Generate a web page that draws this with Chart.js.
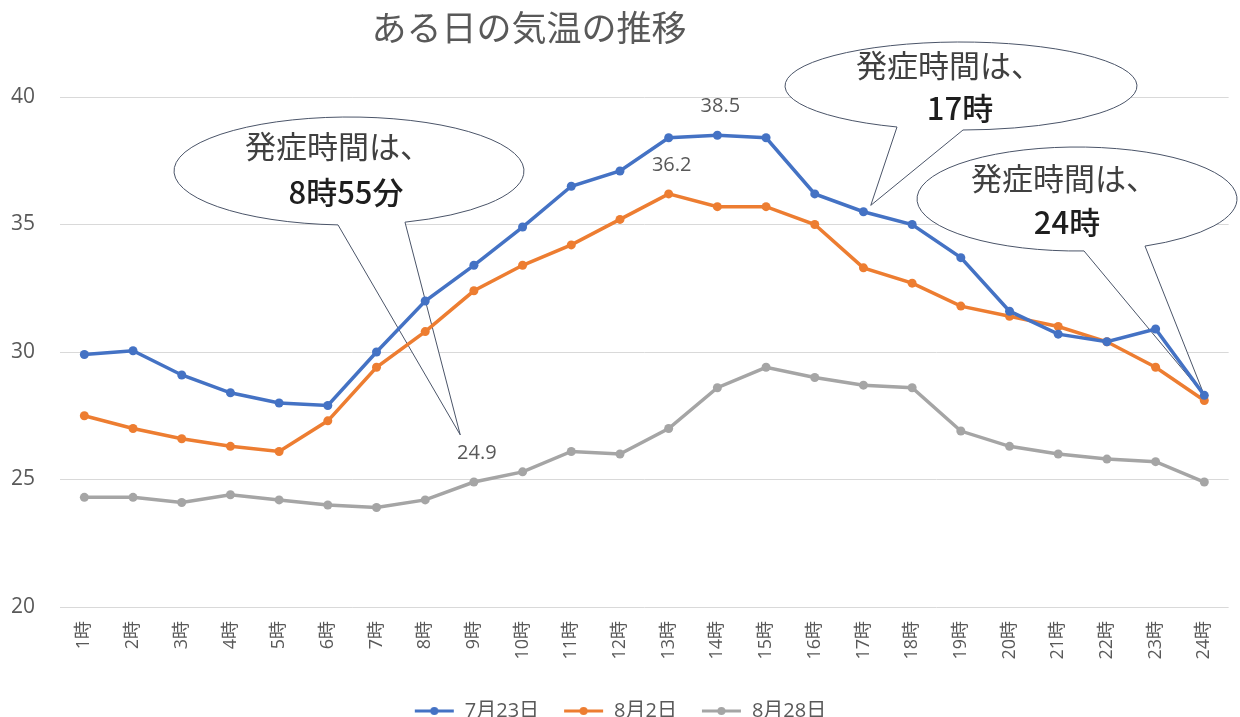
<!DOCTYPE html>
<html><head><meta charset="utf-8">
<script src="https://cdn.jsdelivr.net/npm/chart.js@4.4.0/dist/chart.umd.min.js"></script>
<style>html,body{margin:0;padding:0;background:#fff;}</style>
</head><body>
<canvas id="c" width="1240" height="717"></canvas>
<script>
const categories = ['1時','2時','3時','4時','5時','6時','7時','8時','9時','10時','11時','12時','13時','14時','15時','16時','17時','18時','19時','20時','21時','22時','23時','24時'];
const temps0723 = [29.9,30.05,29.1,28.4,28.0,27.9,30.0,32.0,33.4,34.9,36.5,37.1,38.4,38.5,38.4,36.2,35.5,35.0,33.7,31.6,30.7,30.4,30.9,28.3];
const temps0802 = [27.5,27.0,26.6,26.3,26.1,27.3,29.4,30.8,32.4,33.4,34.2,35.2,36.2,35.7,35.7,35.0,33.3,32.7,31.8,31.4,31.0,30.4,29.4,28.1];
const temps0828 = [24.3,24.3,24.1,24.4,24.2,24.0,23.9,24.2,24.9,25.3,26.1,26.0,27.0,28.6,29.4,29.0,28.7,28.6,26.9,26.3,26.0,25.8,25.7,24.9];
const seriesNames = ['7月23日','8月2日','8月28日'];
const seriesColors = ['#4472C4','#ED7D31','#A5A5A5'];
const yTicks = [20,25,30,35,40];
const chartTitle = 'ある日の気温の推移';
const calloutTexts = [['発症時間は、','8時55分'],['発症時間は、','17時'],['発症時間は、','24時']];
// labelled points: [series index, category index]
const labelledPoints = [[0,13],[1,12],[2,8]];

const FONT = "'Open Sans','Noto Sans CJK JP',sans-serif";
const JFONT = "'Noto Sans CJK JP','Open Sans',sans-serif";
const TXT = '#595959';

// callout shapes (pixel geometry) and tip anchors (in scale values)
const callouts = [
  {cx:349, cy:171, rx:175, ry:54, bl:338, br:405, tip:{x:7.72, y:26.75}, l1:[338,146], l2:[346,192], text:calloutTexts[0]},
  {cx:961, cy:86,  rx:176, ry:44, bl:897, br:963, tip:{x:16.15, y:35.75}, l1:[949,65], l2:[960,108], text:calloutTexts[1]},
  {cx:1077,cy:199, rx:160, ry:52, bl:1084, br:1145, tip:{x:23, y:temps0723[23]}, l1:[1064,178], l2:[1067,222], text:calloutTexts[2]}
];

function legendMarker(color){
  const c=document.createElement('canvas'); c.width=41; c.height=12;
  const g=c.getContext('2d'); g.strokeStyle=color; g.lineWidth=3;
  g.beginPath(); g.moveTo(1,6); g.lineTo(40,6); g.stroke();
  g.fillStyle=color; g.beginPath(); g.arc(20.5,6,4,0,Math.PI*2); g.fill();
  return c;
}
const markers = seriesColors.map(legendMarker);

const decorPlugin = {
  id:'decor',
  beforeDatasetsDraw(chart){
    const ctx=chart.ctx, xs=chart.scales.x, ys=chart.scales.y;
    ctx.save();
    callouts.forEach(c=>{
      const tx=xs.getPixelForValue(c.tip.x), ty=ys.getPixelForValue(c.tip.y);
      const tL=Math.acos(Math.max(-1,Math.min(1,(c.bl-c.cx)/c.rx)));
      const tR=Math.acos(Math.max(-1,Math.min(1,(c.br-c.cx)/c.rx)));
      ctx.beginPath();
      ctx.moveTo(tx,ty);
      ctx.lineTo(c.cx+c.rx*Math.cos(tL), c.cy+c.ry*Math.sin(tL));
      ctx.ellipse(c.cx,c.cy,c.rx,c.ry,0,tL,tR,false);
      ctx.closePath();
      ctx.fillStyle='#ffffff'; ctx.fill();
      ctx.strokeStyle='#4a5468'; ctx.lineWidth=1; ctx.stroke();
      ctx.textAlign='center'; ctx.textBaseline='middle';
      ctx.fillStyle='#404040'; ctx.font="31px "+JFONT;
      ctx.fillText(c.text[0], c.l1[0], c.l1[1]);
      ctx.fillStyle='#1e1e1e'; ctx.font="500 31px "+JFONT;
      ctx.fillText(c.text[1], c.l2[0], c.l2[1]);
    });
    ctx.restore();
  },
  afterDatasetsDraw(chart){
    const ctx=chart.ctx;
    ctx.save();
    ctx.font="20px "+FONT; ctx.fillStyle=TXT; ctx.textAlign='center'; ctx.textBaseline='middle';
    labelledPoints.forEach(([s,i])=>{
      const el=chart.getDatasetMeta(s).data[i];
      const v=chart.data.datasets[s].data[i];
      ctx.fillText(v.toFixed(1), el.x+3, el.y-29);
    });
    ctx.restore();
  },
  afterDraw(chart){
    const ctx=chart.ctx;
    ctx.save();
    ctx.font="35px "+JFONT; ctx.fillStyle=TXT; ctx.textAlign='center'; ctx.textBaseline='middle';
    ctx.fillText(chartTitle, 529, 28);
    ctx.restore();
  }
};

const ds = [temps0723,temps0802,temps0828].map((d,i)=>({
  label:seriesNames[i], data:d, borderColor:seriesColors[i], backgroundColor:seriesColors[i],
  borderWidth:3.5, pointRadius:4.5, pointHoverRadius:4.5, pointBackgroundColor:seriesColors[i],
  pointBorderWidth:0, tension:0, clip:false
}));

new Chart(document.getElementById('c'),{
  type:'line',
  data:{labels:categories, datasets:ds},
  options:{
    responsive:false, animation:false,
    layout:{padding:{top:97,left:0,right:0,bottom:-14}},
    plugins:{
      title:{display:false},
      tooltip:{enabled:false},
      legend:{
        position:'bottom',
        labels:{
          usePointStyle:true, pointStyleWidth:41, boxHeight:12, padding:24,
          color:TXT, font:{size:20, family:FONT},
          generateLabels:(chart)=>chart.data.datasets.map((d,i)=>({
            text:d.label, fillStyle:d.borderColor, strokeStyle:d.borderColor, lineWidth:0,
            pointStyle:markers[i], datasetIndex:i, hidden:false, fontColor:TXT
          }))
        }
      }
    },
    scales:{
      x:{
        offset:true,
        grid:{display:false, drawTicks:false},
        border:{display:false},
        ticks:{minRotation:90, maxRotation:90, autoSkip:false, padding:14, color:TXT, font:{size:18, family:FONT}},
        afterFit:(s)=>{s.height=70;}
      },
      y:{
        min:20, max:40,
        afterBuildTicks:(s)=>{s.ticks=yTicks.map(v=>({value:v}));},
        grid:{color:'#d9d9d9', lineWidth:1, drawTicks:false},
        border:{display:false},
        ticks:{padding:25, color:TXT, font:{size:21, family:FONT}},
        afterFit:(s)=>{s.width=60;}
      }
    }
  },
  plugins:[decorPlugin]
});
</script>
</body></html>
